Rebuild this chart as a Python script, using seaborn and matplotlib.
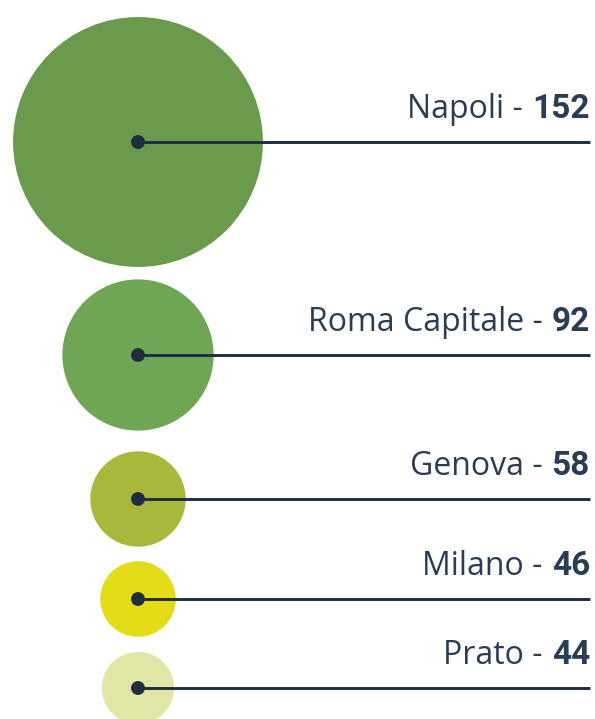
import matplotlib
matplotlib.use("Agg")
import matplotlib.pyplot as plt
import seaborn as sns
import pandas as pd
from matplotlib.patches import Circle

# ---- data ----
cities = ["Napoli", "Roma Capitale", "Genova", "Milano", "Prato"]
values = [152, 92, 58, 46, 44]
colors = ["#6a9a4c", "#6ea653", "#a9b83a", "#e4dc16", "#e1e6a6"]

sns.set_theme(style="white")
plt.rcParams["font.family"] = ["Open Sans", "DejaVu Sans"]

# ---- layout ----
W, H = 595, 719
cx = 138
row_y = [142, 355, 499, 599, 688]
line_end = 590
scale = 0.822  # px of radius per unit
navy = "#1e2d42"
text_color = "#2a3d56"

df = pd.DataFrame({"city": cities, "value": values, "y": row_y,
                   "x": [cx] * len(cities)})

fig = plt.figure(figsize=(W / 100, H / 100), dpi=100)
ax = fig.add_axes([0, 0, 1, 1])
ax.set_xlim(0, W)
ax.set_ylim(H, 0)
ax.set_aspect("equal")
ax.axis("off")

for (_, r), c in zip(df.iterrows(), colors):
    ax.add_patch(Circle((r["x"], r["y"]), scale * r["value"], facecolor=c,
                        edgecolor="none", zorder=1))
    ax.plot([r["x"], line_end], [r["y"], r["y"]], color=navy, lw=2.1,
            solid_capstyle="butt", zorder=3)

sns.scatterplot(data=df, x="x", y="y", s=100, color=navy, edgecolor="none",
                zorder=5, ax=ax, legend=False)
ax.set_xlim(0, W)
ax.set_ylim(H, 0)
ax.axis("off")

fig.canvas.draw()
renderer = fig.canvas.get_renderer()
for _, r in df.iterrows():
    ty = r["y"] - 24
    t_num = ax.text(line_end, ty, f"{r['value']}", ha="right", va="baseline",
                    fontsize=24, fontweight="bold", color=text_color,
                    family=["Roboto", "DejaVu Sans"])
    bb = t_num.get_window_extent(renderer=renderer)
    ax.text(line_end - bb.width - 1, ty, f"{r['city']} - ", ha="right",
            va="baseline", fontsize=23, color=text_color)

fig.savefig("out.png", dpi=100)
